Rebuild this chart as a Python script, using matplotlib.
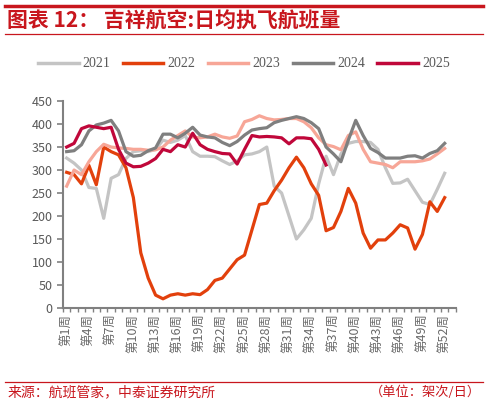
import matplotlib
matplotlib.use("Agg")
import matplotlib.pyplot as plt
from matplotlib.lines import Line2D

plt.rcParams['font.family'] = ['Noto Sans CJK SC', 'DejaVu Sans']

# weekly average flights (架次/日), weeks 1..52
weeks = list(range(1, 53))
y2021 = [326, 315, 300, 262, 260, 195, 282, 290, 325, 340, 342, 340, 345, 365, 360, 365,
         375, 340, 330, 330, 329, 320, 312, 320, 333, 335, 340, 350, 265, 250, 200, 150,
         170, 195, 270, 330, 290, 335, 358, 362, 362, 360, 345, 305, 271, 272, 280, 255,
         230, 225, 258, 293]
y2022 = [295, 290, 270, 310, 268, 350, 340, 333, 305, 240, 120, 65, 28, 20, 28, 31,
         28, 31, 29, 40, 60, 65, 85, 105, 115, 170, 225, 228, 255, 278, 305, 328,
         305, 270, 245, 168, 175, 210, 260, 228, 163, 130, 148, 148, 163, 181, 174, 128,
         160, 231, 210, 240]
y2023 = [265, 300, 290, 318, 340, 356, 350, 348, 347, 345, 345, 343, 344, 350, 365, 375,
         385, 372, 370, 372, 378, 372, 369, 374, 405, 410, 418, 412, 409, 410, 412, 412,
         405, 392, 370, 355, 351, 344, 375, 383, 345, 318, 315, 312, 305, 318, 318, 318,
         320, 324, 335, 347]
y2024 = [340, 342, 355, 385, 398, 402, 408, 385, 340, 330, 332, 342, 348, 378, 378, 370,
         380, 393, 376, 372, 370, 360, 353, 362, 376, 387, 390, 392, 403, 408, 412, 416,
         412, 403, 390, 350, 335, 318, 365, 408, 375, 347, 338, 326, 326, 326, 330, 331,
         326, 336, 342, 358]
weeks2025 = list(range(1, 37))
y2025 = [350, 358, 390, 396, 393, 390, 393, 345, 315, 307, 308, 315, 325, 345, 340, 355,
         350, 380, 355, 345, 340, 336, 335, 313, 345, 375, 372, 373, 372, 370, 357, 370,
         370, 368, 345, 311]

label_weeks = list(range(1, 53, 3))
yticks = list(range(0, 451, 50))

series = [("2021", weeks, y2021, "#c4c4c4"),
          ("2022", weeks, y2022, "#e2400c"),
          ("2023", weeks, y2023, "#f7a697"),
          ("2024", weeks, y2024, "#7f7f7f"),
          ("2025", weeks2025, y2025, "#c0073a")]

red = "#c8161d"
fig = plt.figure(figsize=(4.88, 4.05), dpi=100)
ax = fig.add_axes([0.129, 0.2395, 0.805, 0.511])

for name, xs, ys, c in series:
    ax.plot(xs, ys, color=c, lw=2.3, label=name, solid_joinstyle='round')

ax.set_xlim(0.5, 53.5)
ax.set_ylim(0, 450)
ax.set_yticks(yticks)
ax.set_xticks(label_weeks)
ax.set_xticklabels([f"第{w}周" for w in label_weeks], rotation=90, fontsize=9, color="#6a6a6a")
ax.set_xticks([k + 0.5 for k in range(0, 54)], minor=True)
ax.tick_params(axis='x', which='major', length=0, pad=4)
ax.tick_params(axis='x', which='minor', length=3, width=1, color="#808080")
ax.tick_params(axis='y', length=4, width=1.2, color="#808080", labelsize=9, labelcolor="#595959")
for s in ['top', 'right']:
    ax.spines[s].set_visible(False)
for s in ['left', 'bottom']:
    ax.spines[s].set_color("#808080")
    ax.spines[s].set_linewidth(1.5)

handles = [Line2D([], [], color=c, lw=2.5) for _, _, _, c in series]
fig.legend(handles, [s[0] for s in series], loc='center', bbox_to_anchor=(0.5, 0.842),
           ncol=5, frameon=False, handlelength=2.9, columnspacing=0.9, handletextpad=0.3,
           prop={'family': 'Liberation Serif', 'size': 10}, labelcolor="#595959")

# header and footer decoration
fig.add_artist(Line2D([0.01, 0.99], [0.985, 0.985], color=red, lw=2.5))
fig.add_artist(Line2D([0.01, 0.99], [0.915, 0.915], color=red, lw=0.9))
fig.text(0.015, 0.947, "图表 12： 吉祥航空:日均执飞航班量", color=red, fontsize=15,
         fontweight='bold', va='center', ha='left')
fig.add_artist(Line2D([0.01, 0.99], [0.057, 0.057], color=red, lw=0.9))
fig.text(0.015, 0.032, "来源：航班管家，中泰证券研究所", color=red, fontsize=10, va='center')
fig.text(0.985, 0.032, "（单位：架次/日）", color=red, fontsize=9.5, va='center', ha='right')

fig.savefig("out.png", dpi=100)
